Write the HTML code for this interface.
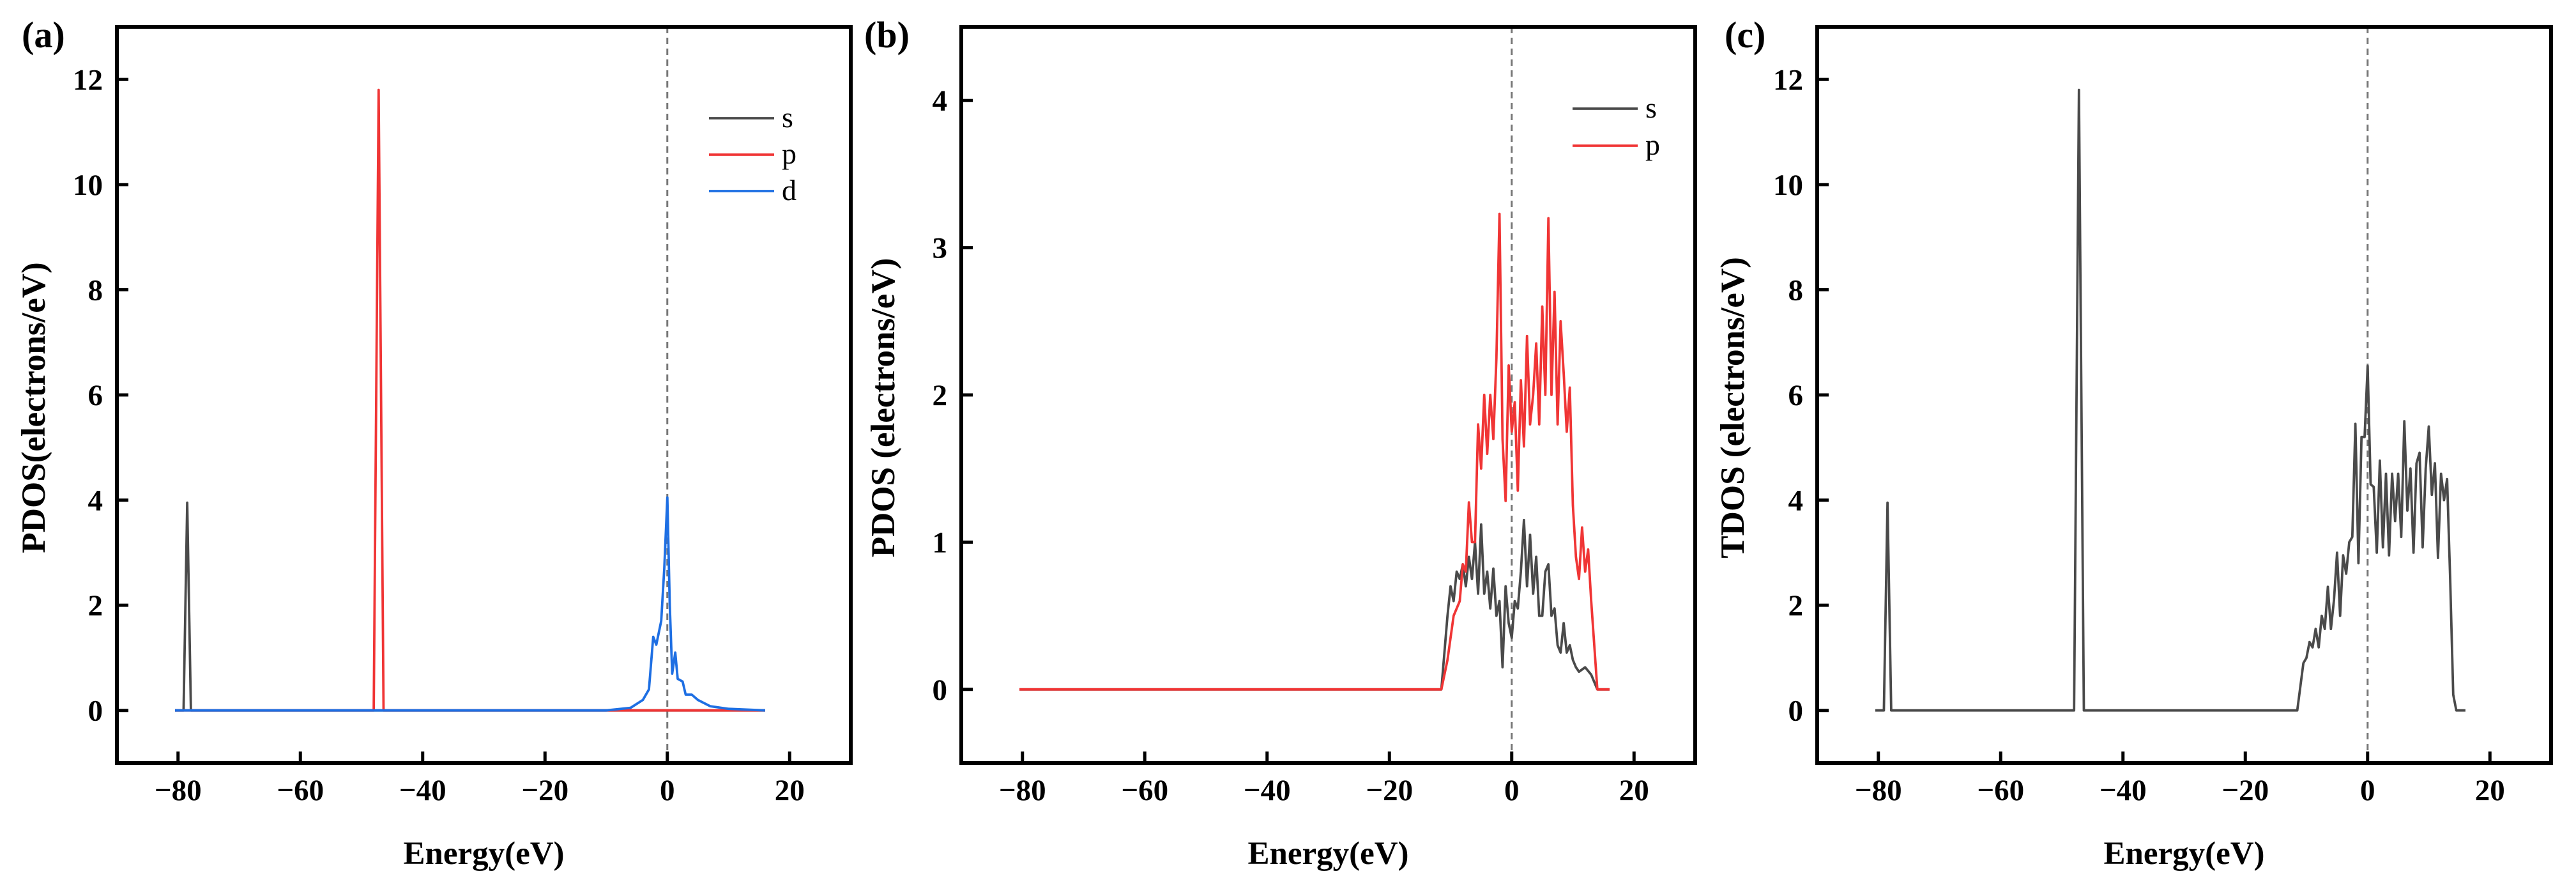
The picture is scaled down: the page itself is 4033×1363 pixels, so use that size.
<!DOCTYPE html>
<html><head><meta charset="utf-8">
<style>
html,body{margin:0;padding:0;background:#fff;}
svg{display:block;}
text{font-family:"Liberation Serif",serif;}
</style></head>
<body>
<svg id="fig" width="4033" height="1363" viewBox="0 0 4033 1363" xmlns="http://www.w3.org/2000/svg"></svg>
<script>
// ---- data ----
const xTicks = [-80, -60, -40, -20, 0, 20];
const yTicksA = [0, 2, 4, 6, 8, 10, 12];
const yTicksB = [0, 1, 2, 3, 4];
const yTicksC = [0, 2, 4, 6, 8, 10, 12];

const aS_E = [-80.5, -79.1, -78.5, -77.9, 16];
const aS_V = [0, 0, 3.95, 0, 0];
const aP_E = [-80.5, -48, -47.2, -46.4, 16];
const aP_V = [0, 0, 11.8, 0, 0];
const aD_E = [-80.5, -10, -6, -4, -3, -2.3, -1.8, -1, -0.5, 0, 0.4, 0.8, 1.3, 1.7, 2.5, 3, 4, 5, 7, 10, 16];
const aD_V = [0, 0, 0.05, 0.2, 0.4, 1.4, 1.25, 1.7, 2.7, 4.05, 2.0, 0.7, 1.1, 0.6, 0.55, 0.3, 0.3, 0.2, 0.08, 0.03, 0];

const bS_E = [-80.5, -11.5, -10.5, -10, -9.5, -9, -8.5, -8, -7.5, -7, -6.5, -6, -5.5, -5, -4.5, -4, -3.5, -3, -2.5, -2, -1.5, -1, -0.5, 0, 0.5, 1, 1.5, 2, 2.5, 3, 3.5, 4, 4.5, 5, 5.5, 6, 6.5, 7, 7.5, 8, 8.5, 9, 9.5, 10, 10.5, 11, 12, 13, 14, 16];
const bS_V = [0, 0, 0.5, 0.7, 0.6, 0.8, 0.75, 0.85, 0.7, 0.9, 0.75, 1.0, 0.65, 1.12, 0.65, 0.8, 0.55, 0.82, 0.5, 0.6, 0.15, 0.7, 0.45, 0.35, 0.6, 0.55, 0.8, 1.15, 0.7, 1.05, 0.65, 0.9, 0.5, 0.5, 0.8, 0.85, 0.5, 0.55, 0.3, 0.25, 0.45, 0.25, 0.3, 0.2, 0.15, 0.12, 0.15, 0.1, 0, 0];
const bP_E = [-80.5, -11.5, -10.5, -9.5, -8.5, -8, -7.5, -7, -6.5, -6, -5.5, -5, -4.5, -4, -3.5, -3, -2.5, -2, -1.5, -1, -0.5, 0, 0.5, 1, 1.5, 2, 2.5, 3, 3.5, 4, 4.5, 5, 5.5, 6, 6.5, 7, 7.5, 8, 8.5, 9, 9.5, 10, 10.5, 11, 11.5, 12, 12.5, 13, 13.5, 14, 16];
const bP_V = [0, 0, 0.2, 0.5, 0.6, 0.85, 0.8, 1.27, 1.0, 1.0, 1.8, 1.5, 2.0, 1.6, 2.0, 1.7, 2.25, 3.23, 1.7, 1.28, 2.2, 1.75, 1.95, 1.35, 2.1, 1.65, 2.4, 1.8, 2.0, 2.35, 1.8, 2.6, 2.0, 3.2, 2.0, 2.7, 1.8, 2.5, 2.15, 1.75, 2.05, 1.25, 0.9, 0.75, 1.1, 0.8, 0.95, 0.6, 0.3, 0, 0];

const cT_E = [-80.5, -79.1, -78.5, -77.9, -48, -47.2, -46.4, -11.5, -10.5, -10, -9.5, -9, -8.5, -8, -7.5, -7, -6.5, -6, -5.5, -5, -4.5, -4, -3.5, -3, -2.5, -2, -1.5, -1, -0.5, 0, 0.5, 1, 1.5, 2, 2.5, 3, 3.5, 4, 4.5, 5, 5.5, 6, 6.5, 7, 7.5, 8, 8.5, 9, 9.5, 10, 10.5, 11, 11.5, 12, 12.5, 13, 13.5, 14, 14.5, 16];
const cT_V = [0, 0, 3.95, 0, 0, 11.8, 0, 0, 0.9, 1.0, 1.3, 1.2, 1.55, 1.2, 1.8, 1.55, 2.35, 1.55, 2.1, 3.0, 1.8, 2.95, 2.6, 3.2, 3.3, 5.45, 2.8, 5.2, 5.2, 6.55, 4.3, 4.25, 3.0, 4.75, 3.1, 4.5, 2.95, 4.5, 3.6, 4.5, 3.3, 5.5, 3.8, 4.6, 3.0, 4.7, 4.9, 3.1, 4.6, 5.4, 4.1, 4.7, 2.9, 4.5, 4.0, 4.4, 2.5, 0.3, 0, 0];

// ---- drawing ----
const NS = 'http://www.w3.org/2000/svg';
const svg = document.getElementById('fig');
function mk(tag, attrs, parent) {
  const e = document.createElementNS(NS, tag);
  for (const k in attrs) e.setAttribute(k, attrs[k]);
  (parent || svg).appendChild(e);
  return e;
}
const TOP = 42, BOT = 1194, W = 1149, XMIN = -90, XMAX = 30;

function panel(cfg) {
  const g = mk('g', {});
  
  
  const L = cfg.left;
  const sx = v => L + (v - XMIN) / (XMAX - XMIN) * W;
  const sy = v => BOT - (v - cfg.ymin) / (cfg.ymax - cfg.ymin) * (BOT - TOP);
  const dl = mk('line', {x1: sx(0), x2: sx(0), y1: TOP, y2: BOT, stroke: '#777', 'stroke-width': 3, 'stroke-dasharray': '10,7'}, g);
  
  
  cfg.series.forEach(s => {
    const d = s.e.map((e, i) => (i ? 'L' : 'M') + sx(e).toFixed(1) + ',' + sy(s.v[i]).toFixed(1)).join(' ');
    const p = mk('path', {d: d, fill: 'none', stroke: s.color, 'stroke-width': 3.8, 'stroke-linejoin': 'round'}, g);
    
    
  });
  const fr = mk('rect', {x: L, y: TOP, width: W, height: BOT - TOP, fill: 'none', stroke: '#000', 'stroke-width': 6}, g);
  
  
  xTicks.forEach(t => {
    mk('line', {x1: sx(t), x2: sx(t), y1: BOT, y2: BOT - 18, stroke: '#000', 'stroke-width': 5}, g);
    const tx = mk('text', {x: sx(t), y: BOT + 58, 'font-size': 47, 'font-weight': 'bold', 'text-anchor': 'middle'}, g);
    tx.textContent = t < 0 ? '\u2212' + Math.abs(t) : String(t);
    
    
  });
  cfg.yticks.forEach(t => {
    mk('line', {x1: L, x2: L + 18, y1: sy(t), y2: sy(t), stroke: '#000', 'stroke-width': 5}, g);
    const ty = mk('text', {x: L - 22, y: sy(t) + 16, 'font-size': 47, 'font-weight': 'bold', 'text-anchor': 'end'}, g);
    ty.textContent = String(t);
    
    
  });
  const xt = mk('text', {x: L + W / 2, y: 1352, 'font-size': 51, 'font-weight': 'bold', 'text-anchor': 'middle'}, g);
  xt.textContent = 'Energy(eV)';
  
  
  const yx = cfg.ytitleX, yy = (TOP + BOT) / 2 + 20;
  const yt = mk('text', {x: yx, y: yy, 'font-size': 53, 'font-weight': 'bold', 'text-anchor': 'middle', transform: 'rotate(-90 ' + yx + ' ' + yy + ')'}, g);
  yt.textContent = cfg.ytitle;
  
  
  const pl = mk('text', {x: cfg.tagX, y: 74, 'font-size': 58, 'font-weight': 'bold'}, g);
  pl.textContent = cfg.tag;
  
  
  if (cfg.legend) {
    cfg.legend.forEach((s, i) => {
      const ly = cfg.legY + i * cfg.legDy;
      const ll = mk('line', {x1: cfg.legX, x2: cfg.legX + 102, y1: ly, y2: ly, stroke: s.color, 'stroke-width': 3.8}, g);
      
      
      const lt = mk('text', {x: cfg.legX + 114, y: ly + 14, 'font-size': 46}, g);
      lt.textContent = s.label;
      
      
    });
  }
}
const GRAY = '#4a4a4a', RED = '#f03535', BLUE = '#1e6fe3';
const sA = [{e: aS_E, v: aS_V, color: GRAY, label: 's'}, {e: aP_E, v: aP_V, color: RED, label: 'p'}, {e: aD_E, v: aD_V, color: BLUE, label: 'd'}];
panel({name: 'panel-a', left: 183, ymin: -1, ymax: 13, yticks: yTicksA, series: sA, ytitle: 'PDOS(electrons/eV)', ytitleX: 70, tag: '(a)', tagX: 34, legend: sA, legX: 1110, legY: 185, legDy: 57});
const sB = [{e: bS_E, v: bS_V, color: GRAY, label: 's'}, {e: bP_E, v: bP_V, color: RED, label: 'p'}];
panel({name: 'panel-b', left: 1505, ymin: -0.5, ymax: 4.5, yticks: yTicksB, series: sB, ytitle: 'PDOS (electrons/eV)', ytitleX: 1400, tag: '(b)', tagX: 1353, legend: sB, legX: 2462, legY: 170, legDy: 58});
const sC = [{e: cT_E, v: cT_V, color: GRAY, label: 'total'}];
panel({name: 'panel-c', left: 2845, ymin: -1, ymax: 13, yticks: yTicksC, series: sC, ytitle: 'TDOS (electrons/eV)', ytitleX: 2730, tag: '(c)', tagX: 2700, legend: null});
</script>
</body></html>
